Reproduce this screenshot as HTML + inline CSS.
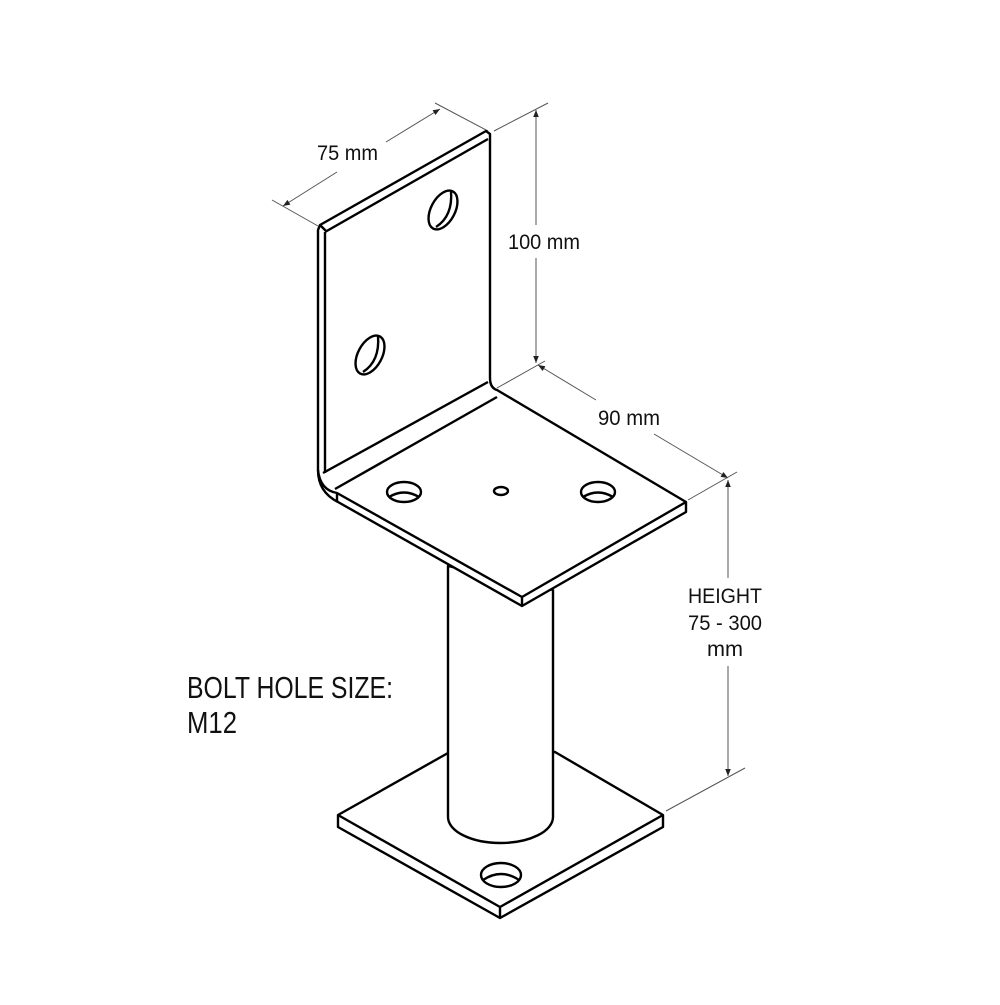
<!DOCTYPE html>
<html><head><style>html,body{margin:0;padding:0;background:#fff}</style></head>
<body>
<svg width="1000" height="1000" viewBox="0 0 1000 1000" xmlns="http://www.w3.org/2000/svg">
<defs>
<marker id="a" viewBox="0 0 10 10" refX="10" refY="5" markerWidth="9" markerHeight="7" orient="auto-start-reverse" markerUnits="userSpaceOnUse"><path d="M0,1 L10,5 L0,9 z" fill="#222"/></marker>
</defs>
<g fill="none" stroke="#555" stroke-width="1">
<line x1="318" y1="226" x2="272" y2="200"/>
<line x1="488" y1="131" x2="435" y2="103"/>
<line x1="283" y1="206" x2="337" y2="172" marker-start="url(#a)"/>
<line x1="386" y1="142" x2="440" y2="109" marker-end="url(#a)"/>
<line x1="494" y1="131" x2="548" y2="103"/>
<line x1="497" y1="388" x2="545" y2="361"/>
<line x1="536" y1="110" x2="536" y2="225" marker-start="url(#a)"/>
<line x1="536" y1="258" x2="536" y2="363" marker-end="url(#a)"/>
<line x1="538" y1="365" x2="596" y2="400" marker-start="url(#a)"/>
<line x1="654" y1="434" x2="728" y2="478" marker-end="url(#a)"/>
<line x1="688" y1="500" x2="737" y2="472"/>
<line x1="728" y1="480" x2="728" y2="578" marker-start="url(#a)"/>
<line x1="728" y1="666" x2="728" y2="776" marker-end="url(#a)"/>
<line x1="666" y1="811" x2="745" y2="768"/>
</g>
<g font-family="Liberation Sans, Arial, sans-serif" fill="#111">
<text x="317" y="160" font-size="21" textLength="61" lengthAdjust="spacingAndGlyphs">75 mm</text>
<text x="508" y="249" font-size="21" textLength="72" lengthAdjust="spacingAndGlyphs">100 mm</text>
<text x="598" y="425" font-size="21" textLength="62" lengthAdjust="spacingAndGlyphs">90 mm</text>
<text x="688" y="603" font-size="21" textLength="74" lengthAdjust="spacingAndGlyphs">HEIGHT</text>
<text x="688" y="630" font-size="21" textLength="74" lengthAdjust="spacingAndGlyphs">75 - 300</text>
<text x="707" y="656" font-size="21" textLength="36" lengthAdjust="spacingAndGlyphs">mm</text>
<text x="187" y="698" font-size="31" textLength="206" lengthAdjust="spacingAndGlyphs">BOLT HOLE SIZE:</text>
<text x="187" y="733" font-size="31" textLength="50" lengthAdjust="spacingAndGlyphs">M12</text>
</g>
<g fill="#fff" stroke="#000" stroke-width="2.4" stroke-linejoin="round">
<path d="M338,815 L448,753 L555,752 L663,815 L663,827 L500,918 L338,827 Z"/>
<path d="M338,815 L500,907 L663,815 M500,907 L500,918" fill="none"/>
<ellipse cx="501" cy="875" rx="20" ry="12"/>
<path d="M483,880 Q501,868 519,880" fill="none"/>
<path d="M448,566 L448,817 A52.5,26 0 0 0 553,817 L553,590 Z"/>
<path d="M318,230 L320,225 L486,131 L490,134 L490,378 Q490,388 497,390 L686,502 L686,512 L522,606 L338,502 Q318,492 318,470 Z"/>
<path d="M325,232 L488,139 M325,232 L325,473 M323,473 L488,382 M335,489 L497,397 M320,225 L327,232" fill="none"/>
<path d="M318,470 Q320,490 337,493 L522,597 L686,502 M522,597 L522,606 M337,493 L337,502" fill="none"/>
<ellipse cx="443" cy="210" rx="12" ry="21" transform="rotate(28 443 210)"/>
<path d="M436,227 Q453,216 451,191" fill="none"/>
<ellipse cx="370" cy="355" rx="12" ry="21" transform="rotate(28 370 355)"/>
<path d="M363,372 Q380,361 378,336" fill="none"/>
<ellipse cx="404" cy="492" rx="17" ry="10"/>
<path d="M389,497 Q404,488 419,497" fill="none"/>
<ellipse cx="598" cy="492" rx="17" ry="10"/>
<path d="M583,497 Q598,488 613,497" fill="none"/>
<ellipse cx="501" cy="491" rx="7" ry="4"/>
</g>
</svg>
</body></html>
